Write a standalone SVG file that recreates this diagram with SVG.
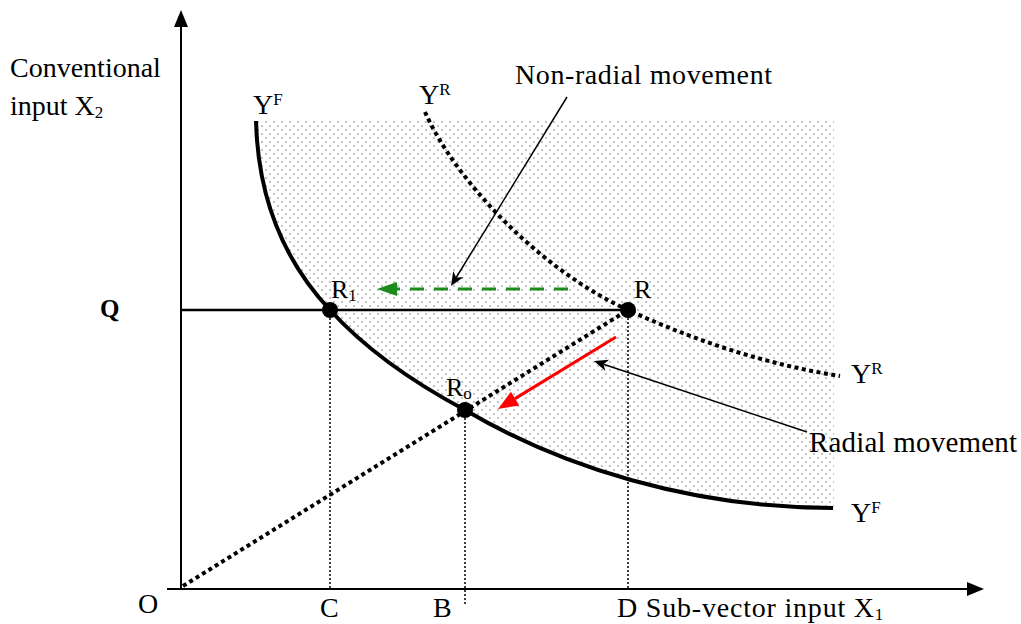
<svg xmlns="http://www.w3.org/2000/svg" width="1021" height="624" viewBox="0 0 1021 624">
<defs>
<pattern id="dots" width="8" height="8" patternUnits="userSpaceOnUse">
<circle cx="2" cy="2" r="1.1" fill="#b5b5b5"/>
<circle cx="6" cy="6" r="1.1" fill="#b5b5b5"/>
</pattern>
<style>
text{font-family:"Liberation Serif","Times New Roman",serif;fill:#000}
.lbl{font-size:28px}
.pt{font-size:26px}
.sup{font-size:17px}
.sub{font-size:17px}
.axis{stroke:#000;stroke-width:2;fill:none}
.thick{stroke:#000;stroke-width:4;fill:none}
.dotted{stroke:#000;stroke-width:4;fill:none;stroke-dasharray:4 3.5}
.guide{stroke:#000;stroke-width:1.5;fill:none;stroke-dasharray:2 2}
.dot{fill:#000}
</style>
</defs>
<rect width="1021" height="624" fill="#fff"/>
<g id="shading">
<path d="M256,121 C258,200 285,262 330,310 C370,354 420,386 465,410 C560,466 690,508 834,508 L834,121 Z" fill="url(#dots)"/>
</g>
<g id="axes">
<line class="axis" x1="181" y1="589" x2="181" y2="24"/>
<polygon points="181,10 174,27 188,27"/>
<line class="axis" x1="167" y1="589" x2="970" y2="589"/>
<polygon points="984,589 967,582 967,596"/>
</g>
<g id="curve-YF">
<path class="thick" d="M256,121 C258,200 285,262 330,310 C370,354 420,386 465,410 C560,466 690,508 833,508"/>
</g>
<g id="curve-YR">
<path class="dotted" d="M425,112 C455,180 540,270 628,310 C700,343 770,365 840,376"/>
</g>
<g id="connectors">
<line stroke="#000" stroke-width="2.5" x1="181" y1="310" x2="628" y2="310"/>
<line class="dotted" stroke-width="3.5" x1="183" y1="586" x2="628" y2="310"/>
<line class="guide" x1="330" y1="318" x2="330" y2="588"/>
<line class="guide" x1="465" y1="418" x2="465" y2="604"/>
<line class="guide" x1="628" y1="318" x2="628" y2="588"/>
<line stroke="#1c8a1c" stroke-width="3" stroke-dasharray="14 10" x1="568" y1="289" x2="396" y2="289"/>
<polygon fill="#1c8a1c" points="377,289 397,282 397,296"/>
<line stroke="#f00" stroke-width="3" x1="616" y1="337" x2="515" y2="398.6"/>
<polygon fill="#f00" points="498,409 519.3,405.4 510.9,391.8"/>
<line stroke="#000" stroke-width="1.5" x1="567" y1="97" x2="456.2" y2="277.5"/>
<path d="M451,286 L463.4,277.2 L456.2,277.5 L453.2,270.9 Z" fill="#000"/>
<line stroke="#000" stroke-width="1.5" x1="807" y1="432" x2="603.5" y2="364.2"/>
<path d="M594,361 L605.4,371.1 L603.5,364.2 L609.2,359.7 Z" fill="#000"/>
</g>
<g id="node-R1">
<circle class="dot" cx="330" cy="310" r="8"/>
<text class="pt" x="331" y="298">R<tspan class="sub" dy="3">1</tspan></text>
</g>
<g id="node-R">
<circle class="dot" cx="628" cy="310" r="8"/>
<text class="pt" x="634" y="298">R</text>
</g>
<g id="node-Ro">
<circle class="dot" cx="465" cy="410" r="8"/>
<text class="pt" x="446" y="396">R<tspan class="sub" dy="3">o</tspan></text>
</g>
<g id="labels">
<text class="lbl" x="10" y="77">Conventional</text>
<text class="lbl" x="10" y="115">input X<tspan class="sub" dy="3">2</tspan></text>
<text x="100" y="317" font-size="25" font-weight="bold">Q</text>
<text class="lbl" x="253" y="114">Y<tspan class="sup" dy="-9">F</tspan></text>
<text class="lbl" x="419" y="104">Y<tspan class="sup" dy="-9">R</tspan></text>
<text class="lbl" x="851" y="383">Y<tspan class="sup" dy="-9">R</tspan></text>
<text class="lbl" x="851" y="522">Y<tspan class="sup" dy="-9">F</tspan></text>
<text class="lbl" x="138" y="613">O</text>
<text class="lbl" x="320" y="617">C</text>
<text class="lbl" x="433" y="617">B</text>
<text class="lbl" x="617" y="617" letter-spacing="0.8">D Sub-vector input X<tspan class="sub" dy="3">1</tspan></text>
<text x="515" y="84" font-size="28" textLength="257" lengthAdjust="spacing">Non-radial movement</text>
<text x="809" y="452" font-size="29" textLength="208" lengthAdjust="spacing">Radial movement</text>
</g>
</svg>
